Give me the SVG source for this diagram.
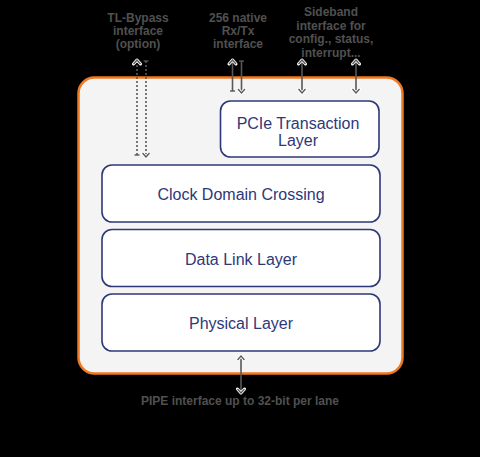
<svg xmlns="http://www.w3.org/2000/svg" width="480" height="457" viewBox="0 0 480 457">
<style>
.lbl{font-family:"Liberation Sans",Arial,sans-serif;font-size:12px;font-weight:bold;fill:#505050;text-anchor:middle}
.blk{fill:#fff;stroke:#2e3878;stroke-width:1.6}
.bt{font-family:"Liberation Sans",Arial,sans-serif;font-size:16px;fill:#2e3878;text-anchor:middle}
.cn{stroke:#585858;stroke-width:1.6;fill:none}
.dot{stroke-dasharray:2,2}
</style>
<defs>
<marker id="ah" markerUnits="userSpaceOnUse" markerWidth="12" markerHeight="12" refX="6" refY="6" orient="auto-start-reverse" overflow="visible">
<path d="M2,2.5 L6,6 L2,9.5" fill="none" stroke="#fff" stroke-width="3" stroke-linecap="round" stroke-linejoin="round"/>
<path d="M2,2.5 L6,6 L2,9.5" fill="none" stroke="#585858" stroke-width="1.3"/>
</marker>
<marker id="bar" markerUnits="userSpaceOnUse" markerWidth="12" markerHeight="12" refX="6" refY="6" orient="auto-start-reverse" overflow="visible">
<path d="M6,3.5 L6,8.5" fill="none" stroke="#585858" stroke-width="1.4"/>
</marker>
</defs>
<rect x="0" y="0" width="480" height="457" fill="#000"/>
<g id="labels">
<text class="lbl" x="138" y="22">TL-Bypass</text>
<text class="lbl" x="138" y="35">interface</text>
<text class="lbl" x="138" y="48">(option)</text>
<text class="lbl" x="238" y="22">256 native</text>
<text class="lbl" x="238" y="35">Rx/Tx</text>
<text class="lbl" x="238" y="48">interface</text>
<text class="lbl" x="331" y="16">Sideband</text>
<text class="lbl" x="331" y="29.5">interface for</text>
<text class="lbl" x="331" y="43">config., status,</text>
<text class="lbl" x="331" y="56.5">interrupt...</text>
<text class="lbl" x="240" y="405">PIPE interface up to 32-bit per lane</text>
</g>
<g id="core">
<rect x="78.5" y="77.5" width="324" height="296" rx="16" fill="#f4f4f4" stroke="#f07820" stroke-width="2.5"/>
</g>
<g id="pcie-transaction">
<rect class="blk" x="220.5" y="101" width="158.5" height="56" rx="10"/>
<text class="bt" x="298" y="129">PCIe Transaction</text>
<text class="bt" x="298" y="146">Layer</text>
</g>
<g id="clock-domain">
<rect class="blk" x="102" y="165" width="278" height="57" rx="10"/>
<text class="bt" x="241" y="200">Clock Domain Crossing</text>
</g>
<g id="data-link">
<rect class="blk" x="102" y="229.5" width="278" height="57" rx="10"/>
<text class="bt" x="241" y="265">Data Link Layer</text>
</g>
<g id="physical">
<rect class="blk" x="102" y="294" width="278" height="57" rx="10"/>
<text class="bt" x="241" y="329">Physical Layer</text>
</g>
<g id="connectors">
<line class="cn dot" x1="137" y1="155" x2="137" y2="60" marker-start="url(#bar)" marker-end="url(#ah)"/>
<line class="cn dot" x1="146" y1="61" x2="146" y2="157" marker-start="url(#bar)" marker-end="url(#ah)"/>
<line class="cn" x1="232.5" y1="91" x2="232.5" y2="60" marker-start="url(#bar)" marker-end="url(#ah)"/>
<line class="cn" x1="241.5" y1="61" x2="241.5" y2="93" marker-start="url(#bar)" marker-end="url(#ah)"/>
<line class="cn" x1="302" y1="60" x2="302" y2="93" marker-start="url(#ah)" marker-end="url(#ah)"/>
<line class="cn" x1="356" y1="60" x2="356" y2="93" marker-start="url(#ah)" marker-end="url(#ah)"/>
<line class="cn" x1="241" y1="356" x2="241" y2="393" marker-start="url(#ah)" marker-end="url(#ah)"/>
</g>
</svg>
